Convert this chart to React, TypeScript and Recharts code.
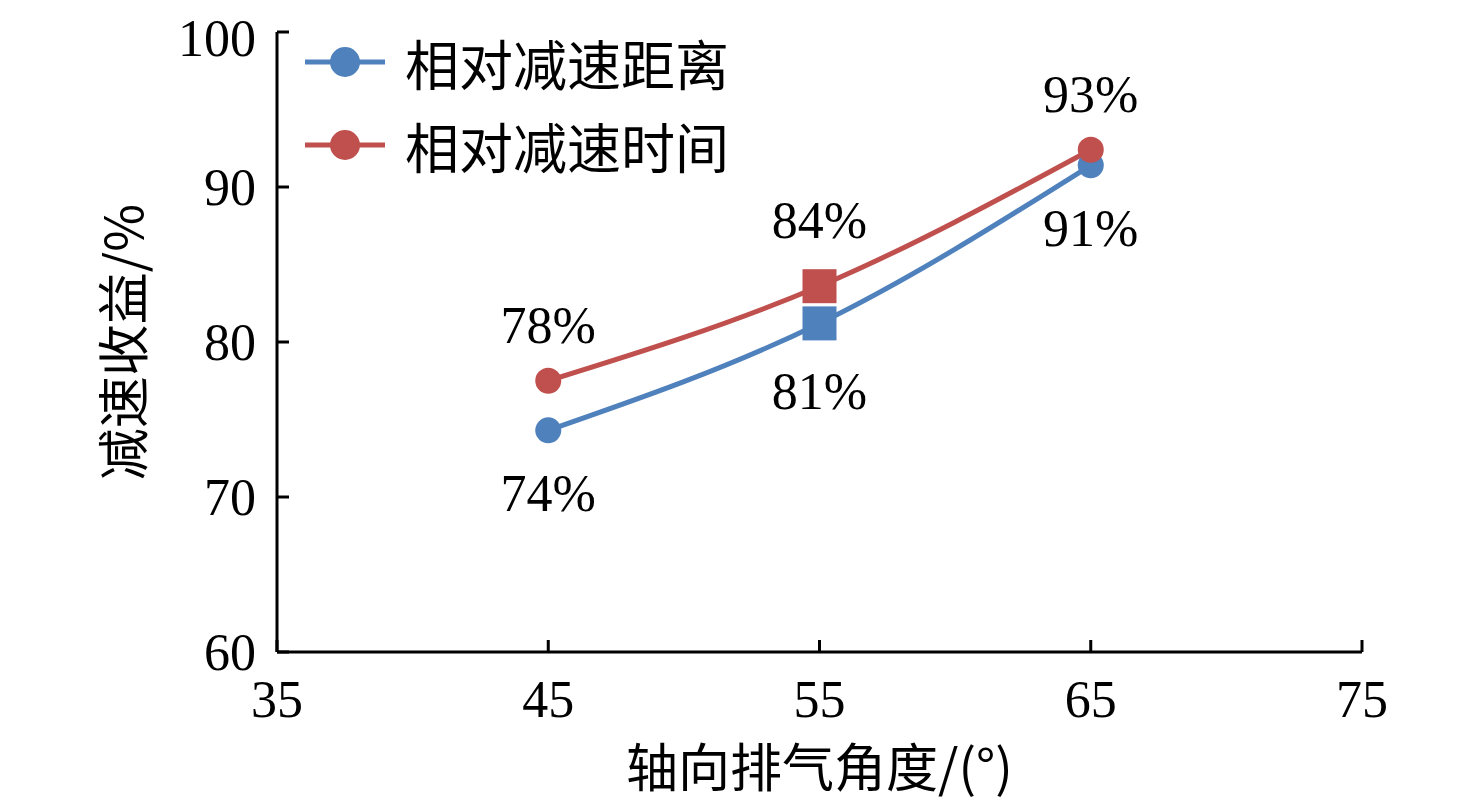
import React from 'react';
import { LineChart, Line, XAxis, YAxis, LabelList } from 'recharts';

const angles = [45, 55, 65];
const distanceGain = [74.3, 81.2, 91.4];
const timeGain = [77.5, 83.6, 92.4];
const distanceLabels = ['74%', '81%', '91%'];
const timeLabels = ['78%', '84%', '93%'];
const xTicks = [35, 45, 55, 65, 75];
const yTicks = [60, 70, 80, 90, 100];
const seriesNames = ['相对减速距离', '相对减速时间'];

const BLUE = '#4F81BD';
const RED = '#C0504D';
const FONT = "'Liberation Serif', 'Times New Roman', 'Noto Sans CJK SC', serif";
const CJK = "'Noto Sans CJK SC', 'Liberation Serif', serif";

const data = angles.map((a, i) => ({
  angle: a,
  dist: distanceGain[i],
  time: timeGain[i],
  distLabel: distanceLabels[i],
  timeLabel: timeLabels[i],
}));

const makeDot = (color: string) => (props: any) => {
  const { cx, cy, index } = props;
  if (cx == null || cy == null) return <g key={`d-${index}`} />;
  if (index === 1) {
    return <rect key={`d-${index}`} x={cx - 17} y={cy - 17} width={34} height={34} fill={color} />;
  }
  return <circle key={`d-${index}`} cx={cx} cy={cy} r={13} fill={color} />;
};

const makeLabel = (above: boolean) => (props: any) => {
  const { x, y, value, index } = props;
  const square = index === 1;
  const off = above ? (square ? -66 : -55) : square ? 68 : 63;
  return (
    <text
      key={`l-${index}`}
      x={x}
      y={y + off}
      textAnchor="middle"
      dominantBaseline="central"
      fontFamily={FONT}
      fontSize={52}
      fill="#000"
    >
      {value}
    </text>
  );
};

const LegendOverlay = () => (
  <svg width={900} height={200} style={{ position: 'absolute', left: 0, top: 0, pointerEvents: 'none' }}>
    {[BLUE, RED].map((c, i) => {
      const y = 54 + i * 83;
      return (
        <g key={i}>
          <line x1={297} x2={377} y1={y} y2={y} stroke={c} strokeWidth={5} />
          <circle cx={337} cy={y} r={15} fill={c} />
          <text x={397} y={y} dominantBaseline="central" fontFamily={CJK} fontSize={54} fill="#000">
            {seriesNames[i]}
          </text>
        </g>
      );
    })}
  </svg>
);

export default function App() {
  return (
    <div style={{ width: 1460, height: 796, position: 'relative', background: '#fff' }}>
      <LineChart
        width={1460}
        height={796}
        data={data}
        margin={{ top: 24, right: 106, left: 119, bottom: 52 }}
      >
        <XAxis
          dataKey="angle"
          type="number"
          domain={[35, 75]}
          ticks={xTicks}
          allowDataOverflow
          axisLine={{ stroke: '#000', strokeWidth: 3 }}
          tickLine={{ stroke: '#000', strokeWidth: 3 }}
          tickSize={-12}
          tickMargin={40}
          height={100}
          tick={{ fill: '#000', fontSize: 52, fontFamily: FONT }}
          label={(p: any) => {
            const vb = p.viewBox || {};
            return (
              <text
                x={vb.x + vb.width / 2}
                y={756}
                textAnchor="middle"
                dominantBaseline="central"
                fontFamily={CJK}
                fontSize={52}
                fill="#000"
              >
                轴向排气角度/(°)
              </text>
            );
          }}
        />
        <YAxis
          type="number"
          domain={[60, 100]}
          ticks={yTicks}
          allowDataOverflow
          width={150}
          axisLine={{ stroke: '#000', strokeWidth: 3 }}
          tickLine={{ stroke: '#000', strokeWidth: 3 }}
          tickSize={-12}
          tickMargin={33}
          tick={{ fill: '#000', fontSize: 52, fontFamily: FONT }}
          label={() => (
            <text
              x={112}
              y={334}
              textAnchor="middle"
              dominantBaseline="central"
              transform="rotate(-90 112 334)"
              fontFamily={CJK}
              fontSize={52}
              fill="#000"
            >
              减速收益/%
            </text>
          )}
        />
        <Line
          type="monotone"
          dataKey="dist"
          name={seriesNames[0]}
          stroke={BLUE}
          strokeWidth={5}
          dot={makeDot(BLUE)}
          activeDot={false}
          isAnimationActive={false}
        >
          <LabelList dataKey="distLabel" content={makeLabel(false)} />
        </Line>
        <Line
          type="monotone"
          dataKey="time"
          name={seriesNames[1]}
          stroke={RED}
          strokeWidth={5}
          dot={makeDot(RED)}
          activeDot={false}
          isAnimationActive={false}
        >
          <LabelList dataKey="timeLabel" content={makeLabel(true)} />
        </Line>
      </LineChart>
      <LegendOverlay />
    </div>
  );
}
